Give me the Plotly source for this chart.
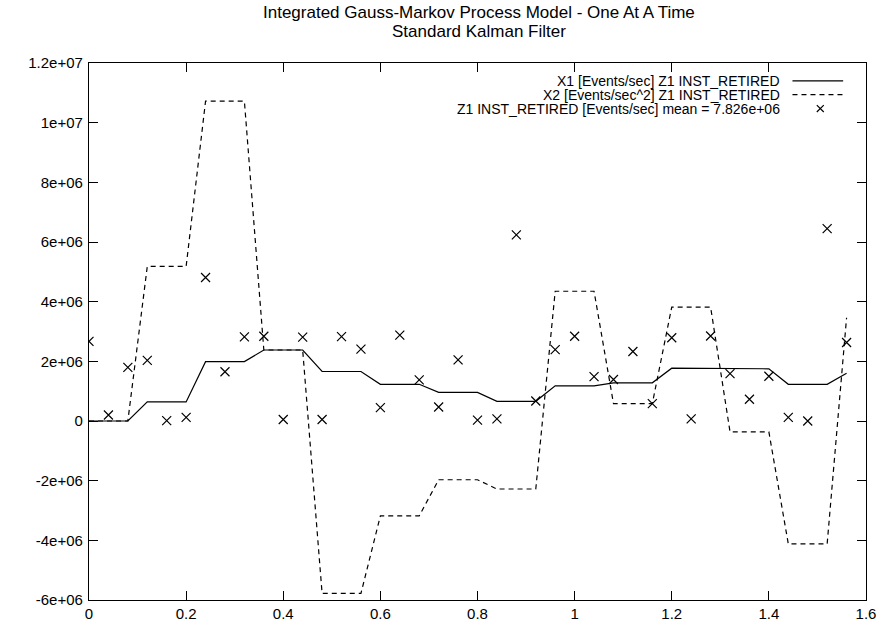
import plotly.graph_objects as go

# Sample times (seconds)
t = [round(0.04 * i, 2) for i in range(40)]

# Filter state X1 [Events/sec]
x1 = [0, 0, 0,
      0.64e6, 0.64e6, 0.64e6,
      1.99e6, 1.99e6, 1.99e6,
      2.38e6, 2.38e6, 2.38e6,
      1.66e6, 1.66e6, 1.66e6,
      1.23e6, 1.23e6, 1.23e6,
      0.96e6, 0.96e6, 0.96e6,
      0.66e6, 0.66e6, 0.66e6,
      1.18e6, 1.18e6, 1.18e6,
      1.28e6, 1.28e6, 1.28e6,
      1.77e6, 1.77e6, 1.77e6,
      1.75e6, 1.75e6, 1.75e6,
      1.23e6, 1.23e6, 1.23e6,
      1.60e6]

# Filter state X2 [Events/sec^2]
x2 = [0, 0, 0,
      5.18e6, 5.18e6, 5.18e6,
      10.72e6, 10.72e6, 10.72e6,
      2.38e6, 2.38e6, 2.38e6,
      -5.78e6, -5.78e6, -5.78e6,
      -3.18e6, -3.18e6, -3.18e6,
      -1.97e6, -1.97e6, -1.97e6,
      -2.28e6, -2.28e6, -2.28e6,
      4.35e6, 4.35e6, 4.35e6,
      0.585e6, 0.585e6, 0.585e6,
      3.82e6, 3.82e6, 3.82e6,
      -0.365e6, -0.365e6, -0.365e6,
      -4.12e6, -4.12e6, -4.12e6,
      3.46e6]

# Measurements Z1 INST_RETIRED [Events/sec]
z1 = [2.67e6, 0.20e6, 1.80e6, 2.03e6, 0.01e6, 0.12e6, 4.81e6, 1.65e6,
      2.82e6, 2.84e6, 0.05e6, 2.81e6, 0.05e6, 2.83e6, 2.41e6, 0.45e6,
      2.88e6, 1.38e6, 0.47e6, 2.05e6, 0.03e6, 0.07e6, 6.24e6, 0.67e6,
      2.39e6, 2.84e6, 1.49e6, 1.39e6, 2.33e6, 0.585e6, 2.79e6, 0.07e6,
      2.85e6, 1.59e6, 0.73e6, 1.50e6, 0.12e6, 0.00e6, 6.45e6, 2.63e6]

ytick_vals = [-6e6, -4e6, -2e6, 0, 2e6, 4e6, 6e6, 8e6, 1e7, 1.2e7]
ytick_text = ["-6e+06", "-4e+06", "-2e+06", "0", "2e+06", "4e+06",
              "6e+06", "8e+06", "1e+07", "1.2e+07"]
xtick_vals = [0, 0.2, 0.4, 0.6, 0.8, 1.0, 1.2, 1.4, 1.6]
xtick_text = ["0", "0.2", "0.4", "0.6", "0.8", "1", "1.2", "1.4", "1.6"]

title_lines = ["Integrated Gauss-Markov Process Model - One At A Time",
               "Standard Kalman Filter"]
legend_labels = ["X1 [Events/sec] Z1 INST_RETIRED",
                 "X2 [Events/sec^2] Z1 INST_RETIRED",
                 "Z1 INST_RETIRED [Events/sec] mean = 7.826e+06"]

FONT = "Liberation Sans, Arial, Helvetica, sans-serif"
FS_TICK = 15
FS_KEY = 14
FS_TITLE = 17

W, H = 888, 634
ML, MR, MT, MB = 89, 17, 63, 29
PH = H - MT - MB
PW = W - ML - MR


def py(pix):
    """Pixel row -> paper y."""
    return 1 - (pix - MT) / PH


def px(pix):
    """Pixel column -> paper x."""
    return (pix - ML) / PW


fig = go.Figure()
fig.add_trace(go.Scatter(x=t, y=x1, mode="lines",
                         line=dict(color="black", width=1.2),
                         name=legend_labels[0], showlegend=False))
fig.add_trace(go.Scatter(x=t, y=x2, mode="lines",
                         line=dict(color="black", width=1.2, dash="5px,4px"),
                         name=legend_labels[1], showlegend=False))
fig.add_trace(go.Scatter(x=t, y=z1, mode="markers",
                         marker=dict(symbol="x-thin", size=9,
                                     line=dict(color="black", width=1.2)),
                         name=legend_labels[2], showlegend=False))

# Title, two centred lines
for line, row in zip(title_lines, [12, 31]):
    fig.add_annotation(x=px(482), y=py(row), xref="paper", yref="paper",
                       text=line, showarrow=False, xanchor="center",
                       yanchor="middle", borderpad=0,
                       font=dict(family=FONT, size=FS_TITLE, color="black"))

# Key: text right-aligned with the sample symbol to its right
rows = [81, 95, 109]
for lab, row in zip(legend_labels, rows):
    fig.add_annotation(x=px(785), y=py(row), xref="paper", yref="paper",
                       text=lab, showarrow=False, xanchor="right",
                       yanchor="middle", borderpad=0,
                       font=dict(family=FONT, size=FS_KEY, color="black"))
fig.add_shape(type="line", xref="paper", yref="paper",
              x0=px(797), x1=px(848), y0=py(rows[0]), y1=py(rows[0]),
              line=dict(color="black", width=1.2))
fig.add_shape(type="line", xref="paper", yref="paper",
              x0=px(797), x1=px(848), y0=py(rows[1]), y1=py(rows[1]),
              line=dict(color="black", width=1.2, dash="5px,4px"))
fig.add_shape(type="path", xref="paper", yref="paper",
              path=(f"M {px(821.5)} {py(rows[2]-3.5)} L {px(828.5)} {py(rows[2]+3.5)} "
                    f"M {px(821.5)} {py(rows[2]+3.5)} L {px(828.5)} {py(rows[2]-3.5)}"),
              line=dict(color="black", width=1.2))

axis_common = dict(showline=True, linecolor="black", linewidth=1.2,
                   mirror="ticks", ticks="inside", ticklen=9,
                   tickcolor="black", tickwidth=1.2, showgrid=False,
                   zeroline=False,
                   tickfont=dict(family=FONT, size=FS_TICK, color="black"))

fig.update_layout(
    width=W, height=H,
    margin=dict(l=ML, r=MR, t=MT, b=MB),
    paper_bgcolor="white", plot_bgcolor="white",
    xaxis=dict(range=[0, 1.6], tickvals=xtick_vals, ticktext=xtick_text,
               **axis_common),
    yaxis=dict(range=[-6e6, 1.2e7], tickvals=ytick_vals, ticktext=ytick_text,
               ticklabelstandoff=2, **axis_common),
)

fig.write_html("out.html")
